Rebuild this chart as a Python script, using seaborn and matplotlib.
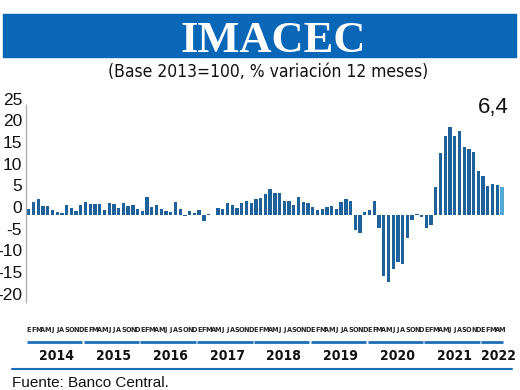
import matplotlib
matplotlib.use("Agg")
import matplotlib.pyplot as plt
from matplotlib.patches import Rectangle
from matplotlib.transforms import ScaledTranslation, blended_transform_factory
import seaborn as sns
import pandas as pd
import numpy as np

# ==========================================
# DATA (IMACEC, % variacion 12 meses)
# ==========================================
v2014 = [1.3, 3.0, 3.6, 2.0, 2.0, 1.1, 0.7, 0.5, 2.3, 1.5, 0.9, 2.2]
v2015 = [3.0, 2.5, 2.5, 2.5, 1.1, 2.7, 2.5, 1.5, 2.8, 2.0, 2.2, 1.4]
v2016 = [1.0, 4.1, 1.8, 2.3, 1.3, 1.0, 0.8, 3.1, 1.3, -0.2, 0.9, 0.5]
v2017 = [1.2, -1.3, 0.2, 0.1, 1.5, 1.4, 2.7, 2.2, 1.5, 2.8, 3.2, 2.7]
v2018 = [3.8, 4.0, 4.8, 5.9, 5.0, 5.0, 3.3, 3.3, 2.3, 4.2, 3.1, 2.7]
v2019 = [1.8, 1.2, 1.4, 1.8, 2.0, 1.3, 3.1, 3.8, 3.3, -3.4, -4.1, 0.6]
v2020 = [1.2, 3.3, -3.1, -14.2, -15.5, -12.5, -10.8, -11.4, -5.4, -1.2, 0.3, -0.4]
v2021 = [-3.1, -2.3, 6.4, 14.2, 18.3, 20.3, 18.3, 19.4, 15.7, 15.2, 14.5, 10.2]
v2022 = [9.0, 6.7, 7.2, 6.9, 6.4]

years = ["2014", "2015", "2016", "2017", "2018", "2019", "2020", "2021", "2022"]
series = [v2014, v2015, v2016, v2017, v2018, v2019, v2020, v2021, v2022]
month_letters = ["E", "F", "M", "A", "M", "J", "J", "A", "S", "O", "N", "D"]
y_ticks = [25, 20, 15, 10, 5, 0, -5, -10, -15, -20]
last_label = "6,4"

# ==========================================
# STYLE
# ==========================================
DARK = "#0b63ae"
LIGHT = "#3eb1e6"
BANNER = "#0a67b8"
LINE = "#1c6fb6"
SANS = ["Liberation Sans", "DejaVu Sans"]

sns.set_style("white")
plt.rcParams["font.family"] = SANS

values = np.concatenate(series)
letters = [month_letters[i % 12] for i in range(len(values))]
df = pd.DataFrame({
    "pos": np.arange(len(values)),
    "valor": values,
    "tipo": ["hist"] * (len(values) - 1) + ["ultimo"],
})

fig = plt.figure(figsize=(5.2, 3.9), dpi=100)
ax = fig.add_axes([26.4 / 520, 1 - 302 / 390, 478 / 520, 197 / 390])

sns.barplot(data=df, x="pos", y="valor", hue="tipo",
            palette={"hist": DARK, "ultimo": LIGHT},
            dodge=False, width=0.7, legend=False, ax=ax, linewidth=0)

ax.set_xlim(-0.5, len(values) - 0.5)
ax.set_ylim(-20.1, 25.4)
ax.set_xlabel("")
ax.set_ylabel("")

# axis + ticks
for s in ["top", "right", "bottom"]:
    ax.spines[s].set_visible(False)
ax.spines["left"].set_color("#b0b0b0")
ax.spines["left"].set_linewidth(1.0)

ax.set_yticks(y_ticks)
ax.set_yticklabels([str(t) for t in y_ticks], fontsize=12.5, color="#111111")
ax.tick_params(axis="y", length=0, pad=3)
# labels sit a little above the true level in the original
for lab in ax.get_yticklabels():
    lab.set_transform(lab.get_transform() + ScaledTranslation(0, 0.08, fig.dpi_scale_trans))

ax.set_xticks(range(len(values)))
ax.set_xticklabels(letters, fontsize=5.2, fontweight="bold", color="#222222",
                   family="DejaVu Sans", fontstretch="condensed")
ax.tick_params(axis="x", length=0, pad=18)

# year underlines and labels
trans = blended_transform_factory(ax.transData, fig.transFigure)
start = 0
for yr, vals in zip(years, series):
    end = start + len(vals) - 1
    ax.plot([start - 0.4, end + 0.3], [1 - 342 / 390] * 2, transform=trans,
            color=LINE, lw=2, clip_on=False, solid_capstyle="butt")
    xc = (start + end) / 2 + (1.2 if len(vals) < 12 else 0.4)
    ax.text(xc, 1 - 356 / 390, yr, transform=trans,
            ha="center", va="center", fontsize=10, fontweight="bold",
            color="#111111", family="DejaVu Sans", fontstretch="condensed")
    start = end + 1

# last value label
ax.text(len(values) - 1 + 1.5, 1 - 113 / 390, last_label, transform=trans,
        ha="right", va="baseline", fontsize=16, color="#111111")

# title banner
fig.add_artist(Rectangle((3 / 520, 1 - 57 / 390), 513 / 520, 43 / 390,
                         transform=fig.transFigure, color=BANNER, zorder=0))
fig.text(273 / 520, 1 - 52 / 390, "IMACEC", ha="center", va="baseline",
         fontsize=32, fontweight="bold", color="white",
         family=["Liberation Serif", "DejaVu Serif"])
fig.text(268 / 520, 1 - 72 / 390, "(Base 2013=100, % variación 12 meses)",
         ha="center", va="center", fontsize=12.5, color="#111111",
         family="DejaVu Sans", fontstretch="condensed")

# bottom rule + source
fig.add_artist(plt.Line2D([12 / 520, 512 / 520], [1 - 369 / 390] * 2,
                          transform=fig.transFigure, color=LINE, lw=1.5))
fig.text(12 / 520, 1 - 387 / 390, "Fuente: Banco Central.", ha="left",
         va="baseline", fontsize=11, color="#111111")

plt.savefig("out.png", dpi=100)
